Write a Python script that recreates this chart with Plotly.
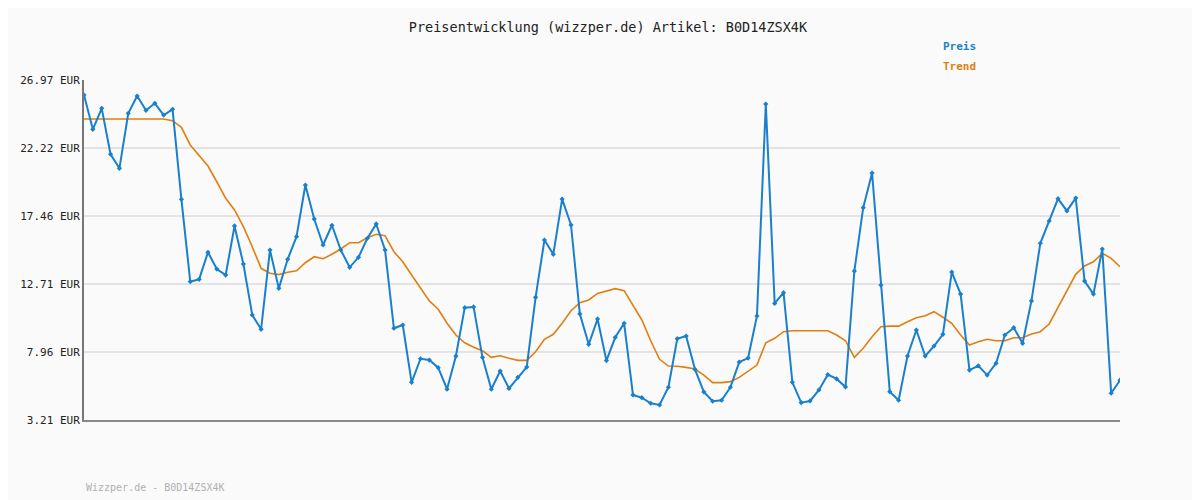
import plotly.graph_objects as go

# Price history (EUR)
preis = [25.92, 23.52, 24.99, 21.78, 20.80, 24.64, 25.85, 24.85, 25.34, 24.52,
         24.92, 18.63, 12.88, 13.04, 14.93, 13.76, 13.34, 16.77, 14.11, 10.55,
         9.55, 15.09, 12.41, 14.44, 16.02, 19.63, 17.26, 15.44, 16.82, 15.09,
         13.88, 14.58, 15.91, 16.91, 15.09, 9.62, 9.85, 5.84, 7.49, 7.40,
         6.87, 5.36, 7.68, 11.06, 11.11, 7.59, 5.36, 6.63, 5.42, 6.19,
         6.91, 11.78, 15.79, 14.79, 18.65, 16.84, 10.62, 8.50, 10.27, 7.36,
         8.99, 9.97, 4.96, 4.77, 4.38, 4.26, 5.50, 8.89, 9.08, 6.75,
         5.17, 4.52, 4.59, 5.50, 7.26, 7.54, 10.48, 25.29, 11.36, 12.11,
         5.84, 4.42, 4.54, 5.31, 6.38, 6.08, 5.52, 13.62, 18.05, 20.47,
         12.64, 5.19, 4.59, 7.68, 9.50, 7.68, 8.38, 9.20, 13.55, 12.01,
         6.70, 7.00, 6.35, 7.17, 9.15, 9.66, 8.57, 11.53, 15.56, 17.12,
         18.68, 17.82, 18.72, 12.92, 12.01, 15.16, 5.08, 5.99]

trend = [24.24, 24.24, 24.24, 24.24, 24.24, 24.24, 24.24, 24.24, 24.24, 24.24,
         24.13, 23.66, 22.43, 21.66, 20.96, 19.86, 18.70, 17.89, 16.72, 15.32,
         13.81, 13.46, 13.37, 13.53, 13.64, 14.20, 14.62, 14.48, 14.79, 15.16,
         15.60, 15.60, 15.95, 16.19, 16.09, 14.97, 14.27, 13.34, 12.41, 11.53,
         10.95, 9.97, 9.15, 8.61, 8.29, 8.05, 7.59, 7.70, 7.52, 7.38,
         7.38, 7.98, 8.85, 9.20, 9.97, 10.85, 11.41, 11.60, 12.06, 12.22,
         12.39, 12.25, 11.25, 10.20, 8.75, 7.45, 6.98, 6.97, 6.89, 6.77,
         6.35, 5.82, 5.82, 5.89, 6.19, 6.59, 7.05, 8.61, 8.92, 9.38,
         9.45, 9.45, 9.45, 9.45, 9.45, 9.15, 8.75, 7.59, 8.22, 9.03,
         9.73, 9.77, 9.77, 10.08, 10.36, 10.50, 10.78, 10.39, 9.97, 9.15,
         8.45, 8.68, 8.85, 8.75, 8.75, 8.96, 8.96, 9.22, 9.38, 9.92,
         11.09, 12.18, 13.39, 13.97, 14.27, 14.86, 14.51, 13.92]

tick_vals = [3.21, 7.96, 12.71, 17.46, 22.22, 26.97]
tick_text = [f"{v:.2f} EUR" for v in tick_vals]

BLUE = "#1a80cc"
ORANGE = "#e07f10"
FONT = "DejaVu Sans Mono"

x = list(range(len(preis)))

fig = go.Figure()
fig.add_trace(go.Scatter(x=x, y=trend, mode="lines", name="Trend",
                         line=dict(color=ORANGE, width=1.6)))
fig.add_trace(go.Scatter(x=x, y=preis, mode="lines+markers", name="Preis",
                         line=dict(color=BLUE, width=2),
                         marker=dict(symbol="diamond", size=4, color=BLUE)))

# the page adds an 8px offset, so the plot box is shifted up/left by 8
fig.update_layout(
    width=1200, height=500,
    margin=dict(l=72, r=88, t=72, b=88),
    paper_bgcolor="#fafafa", plot_bgcolor="#fafafa",
    showlegend=False,
    font=dict(family=FONT, size=11, color="#333333"),
    title=dict(text="Preisentwicklung (wizzper.de) Artikel: B0D14ZSX4K",
               x=0.5, xanchor="center", y=0.97, font=dict(size=13.5, color="#222222")),
)
fig.update_xaxes(range=[0, len(preis) - 1], showgrid=False, showticklabels=False,
                 zeroline=False, showline=True, linecolor="#888888", linewidth=2)
fig.update_yaxes(range=[3.21, 26.97], tickvals=tick_vals, ticktext=tick_text,
                 showgrid=True, gridcolor="#e4e4e4", gridwidth=2, zeroline=False,
                 showline=True, linecolor="#777777", linewidth=2,
                 tickfont=dict(size=11, color="#222222"))

# annotations given in screenshot pixels, converted below
fig.add_annotation(text="<b>Preis</b>", x=940, y=47, showarrow=False,
                   font=dict(color=BLUE, size=11), xanchor="left")
fig.add_annotation(text="<b>Trend</b>", x=940, y=67, showarrow=False,
                   font=dict(color=ORANGE, size=11), xanchor="left")
fig.add_annotation(text="Wizzper.de - B0D14ZSX4K", x=80, y=487, showarrow=False,
                   font=dict(color="#b0b0b0", size=10), xanchor="left")

for a in fig.layout.annotations:
    a.xref = "paper"
    a.yref = "paper"
    a.yanchor = "middle"
    a.x = (a.x - 80) / 1040
    a.y = (420 - a.y) / 340

fig.write_html("out.html")
